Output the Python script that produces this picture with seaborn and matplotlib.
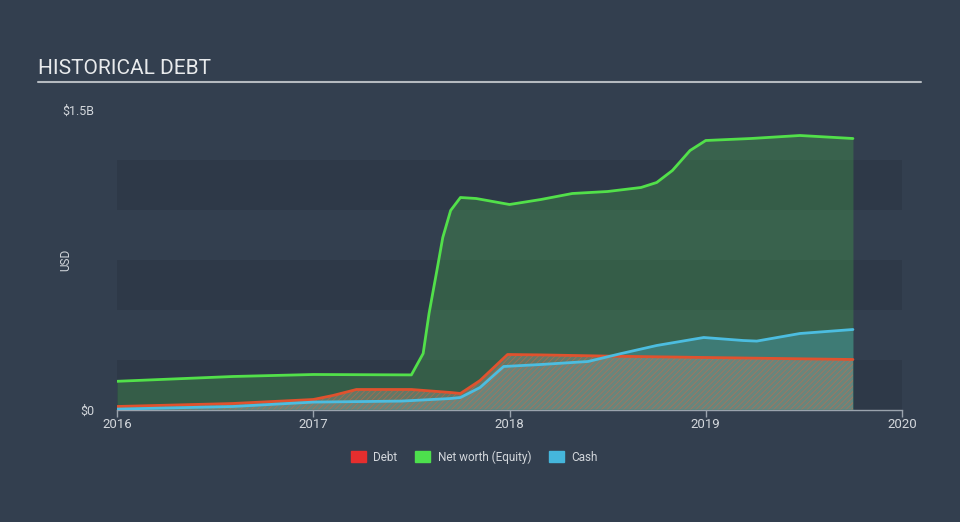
import matplotlib
matplotlib.use("Agg")
import matplotlib.pyplot as plt
from matplotlib.lines import Line2D
from matplotlib.patches import Patch
import seaborn as sns

# values in billions of USD, x in decimal years
equity_years = [2016.0, 2016.59, 2017.0, 2017.5, 2017.56, 2017.59, 2017.63, 2017.66, 2017.70,
                2017.75, 2017.83, 2018.0, 2018.16, 2018.32, 2018.5, 2018.67, 2018.75, 2018.83,
                2018.92, 2019.0, 2019.23, 2019.48, 2019.75]
equity_values = [0.141, 0.165, 0.175, 0.173, 0.28, 0.48, 0.695, 0.86, 0.995,
                 1.06, 1.055, 1.025, 1.05, 1.08, 1.09, 1.11, 1.135, 1.195,
                 1.295, 1.345, 1.355, 1.37, 1.355]

debt_years = [2016.0, 2016.59, 2017.0, 2017.10, 2017.22, 2017.5, 2017.70, 2017.75, 2017.85,
              2017.99, 2018.16, 2018.5, 2019.0, 2019.75]
debt_values = [0.015, 0.03, 0.05, 0.07, 0.10, 0.10, 0.085, 0.08, 0.145,
               0.275, 0.273, 0.267, 0.26, 0.25]

cash_years = [2016.0, 2016.59, 2017.0, 2017.45, 2017.70, 2017.75, 2017.85, 2017.97, 2018.16,
              2018.40, 2018.57, 2018.75, 2018.99, 2019.19, 2019.26, 2019.48, 2019.75]
cash_values = [0.002, 0.015, 0.037, 0.042, 0.055, 0.06, 0.11, 0.215, 0.225,
               0.24, 0.28, 0.32, 0.36, 0.345, 0.342, 0.38, 0.40]

year_ticks = [2016, 2017, 2018, 2019, 2020]

BG = "#333f4f"
BAND = "#2e3948"
TEXT = "#d3d7dc"
GREEN = "#52e04a"
RED = "#e0522e"
BLUE = "#4cbde0"

sns.set_style("dark")
plt.rcParams["font.family"] = ["Roboto", "DejaVu Sans"]
plt.rcParams["hatch.linewidth"] = 0.6

fig = plt.figure(figsize=(9.6, 5.22), dpi=100, facecolor=BG)
ax = fig.add_axes([117 / 960, 1 - 409.5 / 522, 785 / 960, 300 / 522])
ax.set_facecolor(BG)

for lo in (0.0, 0.5, 1.0):
    ax.axhspan(lo, lo + 0.25, color=BAND, lw=0, zorder=0)

ax.fill_between(equity_years, equity_values, color=GREEN, alpha=0.22, lw=0, zorder=1)
ax.fill_between(cash_years, cash_values, color=BLUE, alpha=0.28, lw=0, zorder=2)
ax.fill_between(debt_years, debt_values, facecolor=(0.62, 0.60, 0.55, 0.45),
                edgecolor=(0.85, 0.40, 0.25, 0.55), hatch="//////", lw=0, zorder=3)

sns.lineplot(x=debt_years, y=debt_values, ax=ax, color=RED, lw=2, zorder=4)
sns.lineplot(x=cash_years, y=cash_values, ax=ax, color=BLUE, lw=2, zorder=5)
sns.lineplot(x=equity_years, y=equity_values, ax=ax, color=GREEN, lw=2, zorder=6)

ax.set_xlim(2016, 2020)
ax.set_ylim(0, 1.5)
ax.set_xticks(year_ticks)
ax.set_xticklabels([str(y) for y in year_ticks])
ax.set_yticks([0, 1.5])
ax.set_yticklabels(["$0", "$1.5B"])
ax.tick_params(axis="x", length=5, width=1, color="#9aa3ad", labelcolor=TEXT,
               labelsize=9.5, pad=1, direction="out", bottom=True)
ax.tick_params(axis="y", length=0, labelcolor=TEXT, labelsize=9, pad=16)
ax.set_xlabel("")
ax.set_ylabel("USD", color=TEXT, fontsize=8.5)
ax.yaxis.set_label_coords(-0.057, 0.5)
ax.grid(False)
for s in ["top", "right", "left"]:
    ax.spines[s].set_visible(False)
ax.spines["bottom"].set_color("#9aa3ad")
ax.spines["bottom"].set_linewidth(1)

fig.text(38 / 960, 1 - 69 / 522, "HISTORICAL DEBT", fontsize=15, color="#e8eaec", va="center")
fig.add_artist(Line2D([38 / 960, 921 / 960], [1 - 81.5 / 522] * 2, color="#b5bac0", lw=1.5))

handles = [Patch(color="#e62e2e", label="Debt"),
           Patch(color="#4de04d", label="Net worth (Equity)"),
           Patch(color="#45b6dc", label="Cash")]
leg = fig.legend(handles=handles, loc="center", bbox_to_anchor=(0.494, 1 - 457 / 522), ncol=3,
                 frameon=False, fontsize=8.5, handlelength=1.3, handleheight=1.0,
                 columnspacing=1.5, handletextpad=0.6)
for t in leg.get_texts():
    t.set_color(TEXT)

fig.savefig("out.png", dpi=100, facecolor=BG)
